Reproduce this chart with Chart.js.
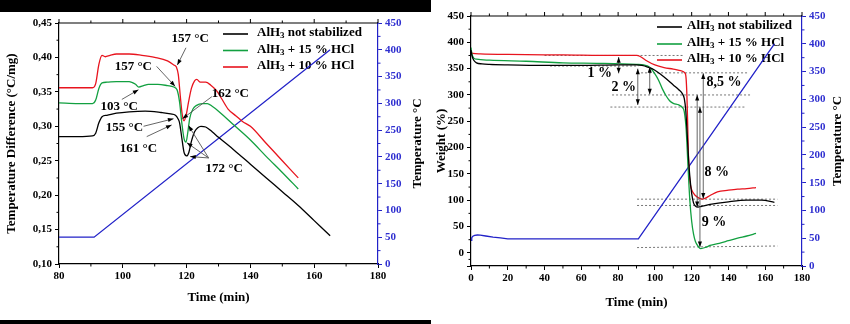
<!DOCTYPE html>
<html>
<head>
<meta charset="utf-8">
<title>AlH3 DTA / TGA</title>
<script src="https://cdn.jsdelivr.net/npm/chart.js@4/dist/chart.umd.min.js"></script>
<style>
  body { margin: 0; width: 850px; height: 324px; position: relative; background: #fff; overflow: hidden; }
  #dta { position: absolute; left: 0; top: 0; }
  #tga { position: absolute; left: 430px; top: 0; }
  .band { position: absolute; background: #000; }
</style>
</head>
<body>
<canvas id="dta" width="430" height="324"></canvas>
<canvas id="tga" width="420" height="324"></canvas>
<div class="band" style="left:0;top:0;width:431px;height:12px"></div>
<div class="band" style="left:0;top:320px;width:431px;height:4px"></div>
<script>
// ---- data: [time (min), value] ----
const seriesNames = ['AlH₃ not stabilized', 'AlH₃ + 15 % HCl', 'AlH₃ + 10 % HCl'];
const seriesColors = ['#000000', '#12a040', '#e8141e'];
const tempColor = '#2222c8';

// left panel, temperature difference (°C/mg)
const dtaBlack = [[80,0.285],[86,0.285],[90.5,0.286],[91.5,0.290],[92.5,0.305],[93.5,0.314],[95,0.316],[98,0.319],[102,0.321],
  [107,0.322],[112,0.320],[115,0.318],[116.5,0.316],[117.3,0.311],[117.8,0.305],[118.5,0.283],[119.2,0.262],[120,0.257],
  [120.7,0.262],[121.5,0.278],[122.5,0.292],[123.5,0.298],[124.5,0.300],[126,0.299],[128,0.292],[130,0.284],[135,0.265],
  [140,0.245],[145,0.225],[150,0.205],[155,0.185],[160,0.163],[165,0.141]];
const dtaGreen = [[80,0.334],[86,0.333],[90.5,0.333],[91.5,0.338],[92.5,0.355],[93.5,0.363],[95,0.364],[98,0.365],[102,0.365],
  [104,0.361],[105,0.357],[106.5,0.359],[108,0.361],[111,0.361],[114,0.359],[116,0.357],[117,0.353],[117.8,0.335],[118.5,0.305],
  [119.2,0.282],[119.8,0.277],[120.4,0.292],[121,0.312],[122,0.325],[123,0.330],[125,0.333],[126.5,0.333],[128,0.329],
  [130,0.322],[135,0.301],[140,0.280],[145,0.256],[150,0.233],[155,0.209]];
const dtaRed = [[80,0.356],[86,0.356],[90.5,0.356],[91.5,0.362],[92.5,0.390],[93.5,0.403],[94.5,0.401],[96,0.403],[98,0.405],
  [102,0.405],[106,0.403],[110,0.400],[114,0.395],[116,0.389],[116.8,0.386],[117.4,0.375],[118,0.345],[118.6,0.318],[119.2,0.308],
  [119.8,0.315],[120.6,0.335],[121.5,0.355],[122.5,0.366],[123.2,0.368],[124.3,0.364],[126,0.364],[127.5,0.360],[129.5,0.351],
  [131,0.340],[133,0.325],[135.5,0.315],[137.5,0.307],[140,0.300],[145,0.275],[150,0.250],[155,0.225]];
const dtaTemp = [[80,50],[91,50],[165,400]];

// right panel, weight (%)
const tgaBlack = [[0,385],[0.5,375],[1.5,366],[3,361],[6,359],[10,358],[20,357],[40,356],[60,356],[80,357],[90,357],[93,356],
  [96,353],[100,347],[105,334],[110,319],[113,310],[115,302],[116,293],[116.8,270],[117.5,230],[118.2,185],[119,145],[120,113],
  [121,95],[122,89],[123.5,87],[125,88],[130,92],[140,97],[150,100],[158,100],[165,96]];
const tgaGreen = [[0,390],[0.5,378],[1.5,370],[3,368],[10,366],[30,364],[50,361],[70,360],[90,358],[94,357],[97,353],[100,340],
  [102,328],[104,312],[106,299],[108,289],[110,284],[113,281],[115,276],[116,268],[117,235],[118,165],[119,100],[120,60],[121,36],
  [122,22],[123,15],[124,10],[125,8],[128,11],[130,14],[135,18],[140,23],[145,28],[150,32],[155,37]];
const tgaRed = [[0,381],[1,379],[5,378],[20,377],[50,376],[80,375],[90,375],[92,373],[95,366],[100,357],[105,352],[110,349],
  [114,346],[116.5,341],[117,330],[117.4,300],[117.8,250],[118.2,190],[118.8,145],[119.5,126],[120.5,116],[122,109],[124,104],
  [126,102],[127.5,104],[130,109],[134,116],[140,119],[145,121],[150,122],[155,124]];
const tgaTemp = [[0,46],[0.4,51],[1,53.5],[2,55],[3.5,55.8],[5,55.5],[8,54],[12,52],[16,50.5],[20,49],[90,49],[91,49],[165,400]];

// annotations (data units)
const dtaNotes = [['157 °C',121.1,0.427],['157 °C',103.3,0.387],['103 °C',98.9,0.329],['162 °C',133.7,0.347],
  ['155 °C',100.5,0.2975],['161 °C',104.9,0.267],['172 °C',131.8,0.239]];
const dtaArrows = [[119.8,0.414,117.1,0.389],[110.6,0.387,116.4,0.358],[99.7,0.339,104.9,0.353],[127.9,0.343,118.7,0.311],
  [106.5,0.300,115.9,0.311],[107.5,0.285,115.3,0.302],[126.9,0.254,120.6,0.301],[126.9,0.254,120.1,0.276],[126.9,0.254,121.1,0.256]];
const tgaNotes = [['1 %',70,341],['2 %',83.1,314],['8,5 %',137.6,323],['8 %',133.6,152],['9 %',132.1,57]];
const tgaArrows = [[80.3,372,341],[90.7,350,281],[97.2,353,301],[123,300,87],[124.5,277,11],[126.3,341,103]];
const tgaGuides = [[40,375,116,375],[43,355,91,355],[90.3,342,151.2,342],[76.7,300,152,300],[75.8,277,149.4,277],
  [90.3,102,166.6,102],[90.3,90,166.6,90],[90.3,10,166.6,13]];

const serif = "'Liberation Serif', 'Times New Roman', serif";
const pts = a => a.map(p => ({x: p[0], y: p[1]}));

function head(ctx, x, y, ang, len) {
  ctx.beginPath();
  ctx.moveTo(x, y);
  ctx.lineTo(x - len * Math.cos(ang - 0.35), y - len * Math.sin(ang - 0.35));
  ctx.lineTo(x - len * Math.cos(ang + 0.35), y - len * Math.sin(ang + 0.35));
  ctx.closePath();
  ctx.fill();
}

function drawSub(ctx, label, x, y) {
  // "AlH₃ ..." with a real subscript 3
  const parts = label.split('₃');
  ctx.font = 'bold 13px ' + serif;
  ctx.fillText(parts[0], x, y);
  x += ctx.measureText(parts[0]).width;
  if (parts.length > 1) {
    ctx.font = 'bold 9px ' + serif;
    ctx.fillText('3', x, y + 3);
    x += ctx.measureText('3').width;
    ctx.font = 'bold 13px ' + serif;
    ctx.fillText(parts[1], x, y);
  }
}

const notesPlugin = {
  id: 'notes',
  beforeDatasetsDraw(chart, args, o) {
    const ctx = chart.ctx, sx = chart.scales.x, sy = chart.scales.y;
    ctx.save();
    ctx.strokeStyle = '#777';
    ctx.lineWidth = 1;
    ctx.setLineDash([2, 2]);
    (o.guides || []).forEach(g => {
      ctx.beginPath();
      ctx.moveTo(sx.getPixelForValue(g[0]), sy.getPixelForValue(g[1]));
      ctx.lineTo(sx.getPixelForValue(g[2]), sy.getPixelForValue(g[3]));
      ctx.stroke();
    });
    ctx.setLineDash([]);
    // legend
    const lg = o.legend;
    ctx.textBaseline = 'middle';
    ctx.textAlign = 'left';
    seriesNames.forEach((n, i) => {
      const yy = lg.rows[i];
      ctx.strokeStyle = seriesColors[i];
      ctx.lineWidth = 1.6;
      ctx.beginPath(); ctx.moveTo(lg.x0, yy + 1); ctx.lineTo(lg.x1, yy + 1); ctx.stroke();
      ctx.fillStyle = '#000';
      drawSub(ctx, n, lg.tx, yy);
    });
    ctx.restore();
  },
  afterDatasetsDraw(chart, args, o) {
    const ctx = chart.ctx, sx = chart.scales.x, sy = chart.scales.y;
    ctx.save();
    ctx.strokeStyle = '#555';
    ctx.fillStyle = '#000';
    ctx.lineWidth = 0.9;
    (o.arrows || []).forEach(a => {
      const x1 = sx.getPixelForValue(a[0]), y1 = sy.getPixelForValue(a[1]);
      const x2 = sx.getPixelForValue(a[2]), y2 = sy.getPixelForValue(a[3]);
      ctx.beginPath(); ctx.moveTo(x1, y1); ctx.lineTo(x2, y2); ctx.stroke();
      head(ctx, x2, y2, Math.atan2(y2 - y1, x2 - x1), 6);
    });
    (o.vArrows || []).forEach(a => {
      const x = sx.getPixelForValue(a[0]), y1 = sy.getPixelForValue(a[1]), y2 = sy.getPixelForValue(a[2]);
      ctx.beginPath(); ctx.moveTo(x, y1); ctx.lineTo(x, y2); ctx.stroke();
      head(ctx, x, y1, -Math.PI / 2, 6);
      head(ctx, x, y2, Math.PI / 2, 6);
    });
    ctx.font = 'bold ' + o.fontSize + 'px ' + serif;
    ctx.textAlign = 'center';
    ctx.textBaseline = 'middle';
    (o.texts || []).forEach(t => {
      ctx.fillText(t[0], sx.getPixelForValue(t[1]), sy.getPixelForValue(t[2]));
    });
    ctx.restore();
  }
};

// top frame line, minor ticks and the right axis title (read bottom-to-top, as in the figure)
const framePlugin = {
  id: 'frame',
  afterDraw(chart) {
    const ctx = chart.ctx, a = chart.chartArea;
    ctx.save();
    ctx.lineWidth = 1.2;
    ctx.strokeStyle = '#000';
    ctx.beginPath(); ctx.moveTo(a.left, a.top); ctx.lineTo(a.right, a.top); ctx.stroke();
    ['x', 'y', 'y2'].forEach(id => {
      const s = chart.scales[id];
      const t = s.ticks;
      ctx.strokeStyle = id === 'y2' ? tempColor : '#000';
      ctx.lineWidth = 1;
      for (let i = 0; i < t.length; i++) {
        const major = s.getPixelForValue(t[i].value);
        const mid = i < t.length - 1 ? s.getPixelForValue((t[i].value + t[i + 1].value) / 2) : null;
        ctx.beginPath();
        if (id === 'x') {
          ctx.moveTo(major, a.top); ctx.lineTo(major, a.top - 4);
          if (mid !== null) {
            ctx.moveTo(mid, a.top); ctx.lineTo(mid, a.top - 2.5);
            ctx.moveTo(mid, a.bottom); ctx.lineTo(mid, a.bottom + 2.5);
          }
        } else if (id === 'y') {
          if (mid !== null) { ctx.moveTo(a.left, mid); ctx.lineTo(a.left - 2.5, mid); }
        } else {
          if (mid !== null) { ctx.moveTo(a.right, mid); ctx.lineTo(a.right + 2.5, mid); }
        }
        ctx.stroke();
      }
    });
    const s2 = chart.scales.y2;
    ctx.translate(s2.right - 12, (a.top + a.bottom) / 2);
    ctx.rotate(-Math.PI / 2);
    ctx.font = 'bold 13px ' + serif;
    ctx.fillStyle = '#000';
    ctx.textAlign = 'center';
    ctx.textBaseline = 'middle';
    ctx.fillText('Temperature °C', 0, 0);
    ctx.restore();
  }
};

function line(label, data, color, axis, smooth) {
  return {label, data: pts(data), borderColor: color, backgroundColor: color, borderWidth: 1.3,
    pointRadius: 0, cubicInterpolationMode: smooth ? 'monotone' : 'default', tension: 0, yAxisID: axis};
}

function makeChart(id, cfg) {
  const font = s => ({family: serif, size: s, weight: 'bold'});
  return new Chart(document.getElementById(id), {
    type: 'line',
    data: {datasets: [
      line(seriesNames[0], cfg.black, seriesColors[0], 'y', true),
      line(seriesNames[1], cfg.green, seriesColors[1], 'y', true),
      line(seriesNames[2], cfg.red, seriesColors[2], 'y', true),
      line('Temperature', cfg.temp, tempColor, 'y2', false)
    ]},
    options: {
      responsive: false,
      animation: false,
      layout: {padding: {top: cfg.top, bottom: cfg.bottom, left: 0, right: 0}},
      plugins: {
        legend: {display: false},
        tooltip: {enabled: false},
        notes: cfg.notes
      },
      scales: {
        x: {
          type: 'linear', min: cfg.xMin, max: 180,
          ticks: {stepSize: 20, color: '#000', font: font(11), padding: 2, maxRotation: 0},
          grid: {drawOnChartArea: false, tickLength: 4, color: '#000'},
          border: {color: '#000', width: 1.2},
          title: {display: true, text: 'Time (min)', color: '#000', font: font(13), padding: 4},
          afterFit: s => { s.height = cfg.xH; }
        },
        y: {
          position: 'left', min: cfg.yMin, max: cfg.yMax,
          ticks: {stepSize: cfg.yStep, color: '#000', font: font(11), padding: 3, callback: cfg.yFmt},
          grid: {drawOnChartArea: false, tickLength: 4, color: '#000'},
          border: {color: '#000', width: 1.2},
          title: {display: true, text: cfg.yTitle, color: '#000', font: font(13), padding: 4},
          afterFit: s => { s.width = cfg.yW; }
        },
        y2: {
          position: 'right', min: 0, max: 450,
          ticks: {stepSize: 50, color: '#3030d0', font: font(11), padding: 3},
          grid: {drawOnChartArea: false, tickLength: 4, color: tempColor},
          border: {color: tempColor, width: 1.2},
          title: {display: false},
          afterFit: s => { s.width = cfg.y2W; }
        }
      }
    },
    plugins: [notesPlugin, framePlugin]
  });
}

makeChart('dta', {
  black: dtaBlack, green: dtaGreen, red: dtaRed, temp: dtaTemp,
  xMin: 80, yMin: 0.10, yMax: 0.45, yStep: 0.05,
  yFmt: v => v.toFixed(2).replace('.', ','),
  yTitle: 'Temperature Difference (°C/mg)',
  top: 23, bottom: 15, xH: 45, yW: 59, y2W: 52,
  notes: {texts: dtaNotes, arrows: dtaArrows, fontSize: 13,
    legend: {x0: 223, x1: 248, tx: 257, rows: [33, 49.5, 66]}}
});

makeChart('tga', {
  black: tgaBlack, green: tgaGreen, red: tgaRed, temp: tgaTemp,
  xMin: 0, yMin: -25, yMax: 450, yStep: 50,
  yFmt: v => (v < 0 ? '' : v),
  yTitle: 'Weight (%)',
  top: 16, bottom: 10, xH: 48, yW: 41, y2W: 48,
  notes: {texts: tgaNotes, vArrows: tgaArrows, guides: tgaGuides, fontSize: 14,
    legend: {x0: 227, x1: 252, tx: 257, rows: [26, 43, 59]}}
});
</script>
</body>
</html>
